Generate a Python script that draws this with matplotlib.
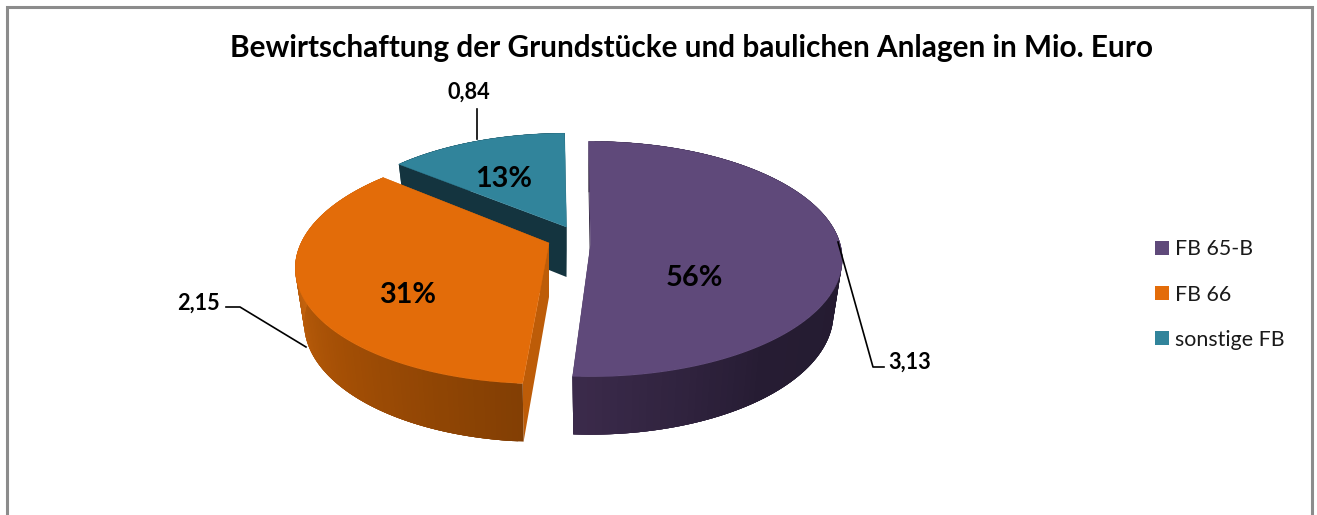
import numpy as np
import matplotlib
matplotlib.use("Agg")
import matplotlib.pyplot as plt
from matplotlib.colors import to_rgb
from matplotlib.patches import Patch, Polygon

plt.rcParams['font.family'] = ['Lato', 'DejaVu Sans']

# --- data ---
TITLE = "Bewirtschaftung der Grundstücke und baulichen Anlagen in Mio. Euro"
categories = ["FB 65-B", "FB 66", "sonstige FB"]
values = [3.13, 2.15, 0.84]
value_labels = ["3,13", "2,15", "0,84"]
percent_labels = ["56%", "31%", "13%"]

# --- styles ---
top_colors = ["#5f497a", "#e36c09", "#31849b"]
cut_colors = ["#241a30", "#bd5c08", "#14343f"]
wall_stops = [
    [(90, "#241b30"), (140, "#261c33"), (184, "#3c2b4c")],
    [(184, "#833f04"), (225, "#a44f05"), (272, "#c9660f")],
    [(310, "#14343f"), (360, "#14343f")],
]
# apex x, apex y, A, B, perspective k, shear, depth
geometry = [
    (590.5, 245, 250, 116, 0.119, 0.00, 54),
    (549, 243, 248, 114, 0.190, -0.05, 54),
    (566.5, 227, 236, 105, 0.119, 0.00, 50),
]
BOTTOM_X, BOTTOM_Y = 0.965, 1.03
ROTATION = -0.5

fig = plt.figure(figsize=(13.17, 5.15), dpi=100)
ax = fig.add_axes([0, 0, 1, 1])
ax.set_xlim(0, 1317)
ax.set_ylim(515, 0)
ax.axis("off")

# chart frame (bottom side is cut off in the reference)
ax.plot([7, 7, 1312, 1312], [515, 7, 7, 515], color="#8c8c8c", lw=2.2,
        solid_joinstyle="miter", zorder=1)


def rim(theta_deg, g, bottom=False):
    ax0, ay0, A, B, k, s, d = g
    t = np.radians(theta_deg)
    den = 1 + k * np.cos(t)
    dx = A * np.sin(t) / den
    dy = -B * np.cos(t) / den
    x = ax0 + dx + s * dy
    y = ay0 + dy
    if bottom:
        x = ax0 + BOTTOM_X * (dx + s * dy)
        y = ay0 + BOTTOM_Y * dy + d
    return x, y


fractions = np.array(values) / sum(values)
edges = np.concatenate([[0], np.cumsum(fractions)]) * 360 + ROTATION

for i in [2, 1, 0]:
    g = geometry[i]
    t0, t1 = edges[i], edges[i + 1]
    base = 2 + (2 - i) * 3
    ts = np.linspace(t0, t1, 121)
    xt, yt = rim(ts, g)
    xb, yb = rim(ts, g, bottom=True)
    ax0, ay0, d = g[0], g[1], g[6]

    # straight cut faces
    for t in (t0, t1):
        xa, ya = rim(t, g)
        xc, yc = rim(t, g, bottom=True)
        ax.add_patch(Polygon([(ax0, ay0), (xa, ya), (xc, yc), (ax0, ay0 + d)],
                             closed=True, fc=cut_colors[i], ec="none",
                             zorder=base))

    # outer wall with gradient: overlapping strips so no seams show
    stops = wall_stops[i]
    st = [s[0] for s in stops]
    rgb = np.array([to_rgb(s[1]) for s in stops])
    n = len(ts)
    for j in range(n - 1):
        e = min(j + 4, n - 1)
        c = [np.interp(ts[j], st, rgb[:, m]) for m in range(3)]
        strip = np.vstack([np.column_stack([xt[j:e + 1], yt[j:e + 1]]),
                           np.column_stack([xb[j:e + 1], yb[j:e + 1]])[::-1]])
        ax.add_patch(Polygon(strip, closed=True, fc=c, ec="none", zorder=base))

    # top face
    ax.add_patch(Polygon(np.vstack([[(ax0, ay0)], np.column_stack([xt, yt])]),
                         closed=True, fc=top_colors[i], ec=top_colors[i],
                         lw=0.3, zorder=base + 1))

# percent labels
pct_pos = [(694, 278), (408, 295), (504, 179)]
for lab, (x, y) in zip(percent_labels, pct_pos):
    ax.text(x, y, lab, ha="center", va="center", fontsize=20.8, fontweight="bold",
            color="black", zorder=20)

# value labels with leader lines
ax.plot([838, 873, 884], [242, 367, 367], color="black", lw=1.2, zorder=12)
ax.plot([226, 240, 306], [307, 307, 347], color="black", lw=1.2, zorder=12)
ax.plot([477, 477], [109, 139], color="black", lw=1.2, zorder=12)
ax.text(909.5, 362, value_labels[0], ha="center", va="center", fontsize=15.6,
        fontweight="bold", zorder=20)
ax.text(198.5, 303, value_labels[1], ha="center", va="center", fontsize=15.6,
        fontweight="bold", zorder=20)
ax.text(469, 92.5, value_labels[2], ha="center", va="center", fontsize=15.6,
        fontweight="bold", zorder=20)

ax.text(691, 48.5, TITLE, ha="center", va="center", fontsize=21.4,
        fontweight="bold", color="black", zorder=20)

handles = [Patch(fc=c, ec="none") for c in top_colors]
leg = ax.legend(handles, categories, loc="center left",
                bbox_to_anchor=(1155 / 1317, 1 - 294.5 / 515), frameon=False,
                fontsize=15.4, handlelength=0.66, handleheight=0.66,
                handletextpad=0.28, labelspacing=1.18, borderpad=0, borderaxespad=0)
for t in leg.get_texts():
    t.set_color("#1a1a1a")

fig.savefig("out.png", dpi=100)
